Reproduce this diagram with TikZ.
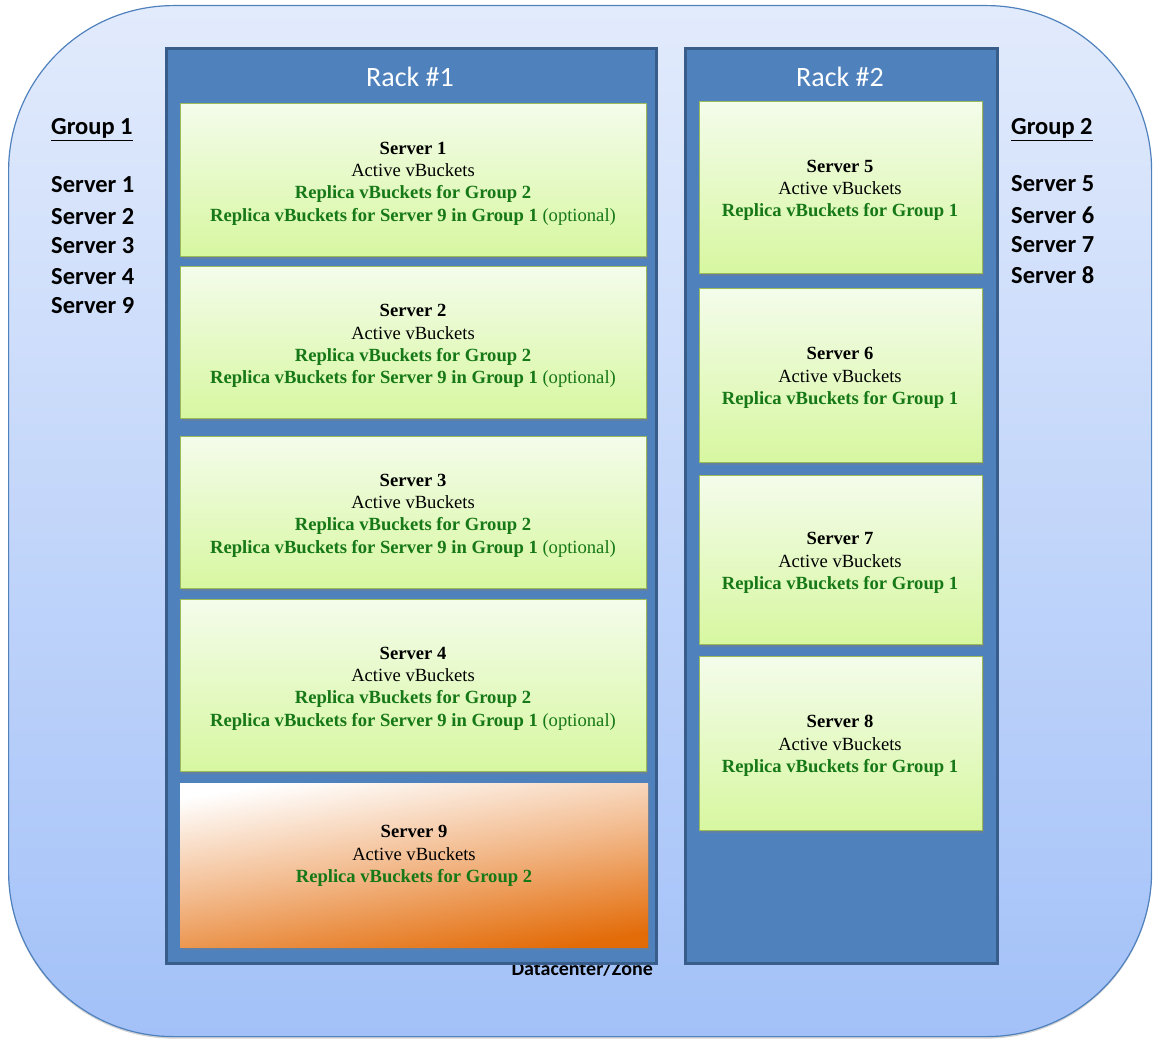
\documentclass[tikz,border=0pt]{standalone}
\usepackage{fontspec}
\setmainfont{Liberation Serif}
\newfontfamily\calfont{Carlito}
\usetikzlibrary{shadows}
\definecolor{outerTop}{RGB}{226,235,252}
\definecolor{outerBot}{RGB}{163,193,248}
\definecolor{outerLine}{RGB}{79,129,189}
\definecolor{rackFill}{RGB}{79,129,189}
\definecolor{rackLine}{RGB}{56,93,138}
\definecolor{greenTop}{RGB}{244,252,235}
\definecolor{greenBot}{RGB}{215,247,160}
\definecolor{greenLine}{RGB}{155,187,89}
\definecolor{greenText}{RGB}{22,120,22}
\definecolor{orangeBot}{RGB}{227,108,9}
\definecolor{orangeMid}{RGB}{242,184,137}
\begin{document}
\begin{tikzpicture}[x=1pt,y=-1pt,
  outerbox/.style={draw=outerLine, line width=1.2pt, rounded corners=165pt,
    top color=outerTop, bottom color=outerBot, inner sep=0pt,
    drop shadow={shadow xshift=0pt, shadow yshift=-2pt, opacity=0.35}},
  rackbox/.style={draw=rackLine, line width=3pt, fill=rackFill, inner sep=0pt},
  gbox/.style={draw=greenLine, line width=1pt, top color=greenTop, bottom color=greenBot,
    inner sep=0pt, drop shadow={shadow xshift=1.5pt, shadow yshift=-2.5pt, opacity=0.4}},
  obox/.style={top color=white, bottom color=orangeBot, middle color=orangeMid, shading angle=9,
    inner sep=0pt, drop shadow={shadow xshift=1.5pt, shadow yshift=-2.5pt, opacity=0.4}},
  stext/.style={font=\fontsize{18.6}{22.3}\selectfont, align=center, inner sep=0pt},
  racktitle/.style={font=\calfont\fontsize{28}{32}\selectfont, text=white, inner sep=0pt},
  grplabel/.style={font=\calfont\bfseries\fontsize{24.5}{28}\selectfont, inner sep=0pt},
  dclabel/.style={font=\calfont\bfseries\fontsize{20}{24}\selectfont, inner sep=0pt}
]
\useasboundingbox (0,0) rectangle (1159,1048);
\node[outerbox, minimum width=1143pt, minimum height=1031pt, anchor=north west] (dc) at (8,5) {};
\node[dclabel, anchor=base east] (dcl) at (653,975) {Datacenter/Zone};
% racks
\node[rackbox, minimum width=490pt, minimum height=915pt, anchor=north west] (r1) at (165,47) {};
\node[rackbox, minimum width=312pt, minimum height=915pt, anchor=north west] (r2) at (684,47) {};
\node[racktitle] (rt1) at (410,77) {Rack \#1};
\node[racktitle] (rt2) at (840,77) {Rack \#2};
% group lists
\node[grplabel, anchor=base west] (g1) at (51,134.5) {\underline{Group 1}};
\foreach \t/\y [count=\i] in {Server 1/193, Server 2/225, Server 3/254, Server 4/285, Server 9/314}
  \node[grplabel, anchor=base west] (ga\i) at (51,\y) {\t};
\node[grplabel, anchor=base west] (g2) at (1011,134.5) {\underline{Group 2}};
\foreach \t/\y [count=\i] in {Server 5/192, Server 6/224, Server 7/253, Server 8/284}
  \node[grplabel, anchor=base west] (gb\i) at (1011,\y) {\t};
% rack 1 servers
\foreach \n/\top/\h/\c in {1/103/153/183.5, 2/266/152/346, 3/436/152/515.5, 4/599/172/688.5}{
  \node[gbox, minimum width=466pt, minimum height=\h pt, anchor=north west] (s\n) at (180,\top) {};
  \node[stext] (t\n) at (413,\c) {\textbf{Server \n}\\Active vBuckets\\
    \textcolor{greenText}{\textbf{Replica vBuckets for Group 2}}\\
    \textcolor{greenText}{\textbf{Replica vBuckets for Server 9 in Group 1} (optional)}};
}
\node[obox, minimum width=468pt, minimum height=164pt, anchor=north west] (s9) at (180,783) {};
\node[stext] (t9) at (414,856) {\textbf{Server 9}\\Active vBuckets\\
    \textcolor{greenText}{\textbf{Replica vBuckets for Group 2}}};
% rack 2 servers
\foreach \n/\top/\h/\c in {5/101/172/190.5, 6/288/174/378, 7/475/169/563, 8/656/174/746}{
  \node[gbox, minimum width=283pt, minimum height=\h pt, anchor=north west] (s\n) at (699,\top) {};
  \node[stext] (t\n) at (840,\c) {\textbf{Server \n}\\Active vBuckets\\
    \textcolor{greenText}{\textbf{Replica vBuckets for Group 1}}};
}
\end{tikzpicture}
\end{document}
